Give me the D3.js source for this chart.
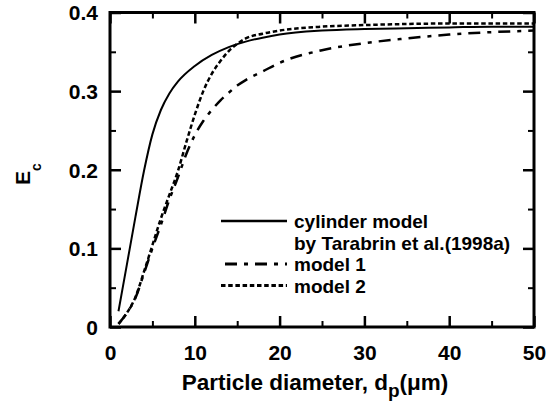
<!DOCTYPE html>
<html>
<head>
<meta charset="utf-8">
<script src="https://cdn.jsdelivr.net/npm/d3@7"></script>
<style>
  body { margin: 0; background: #fff; }
  text { font-family: "Liberation Sans", Arial, sans-serif; font-weight: bold; fill: #000; }
</style>
</head>
<body>
<div id="chart"></div>
<script>
// data: particle diameter (um) vs collection efficiency
var dCyl = [1, 2, 3, 4, 5, 6, 7, 8, 10, 12, 14, 16, 18, 20, 25, 30, 35, 40, 45, 50];
var eCyl = [0.02, 0.08, 0.14, 0.198, 0.245, 0.276, 0.297, 0.312, 0.332, 0.346, 0.356, 0.363, 0.368, 0.372, 0.377, 0.379, 0.380, 0.381, 0.382, 0.382];

var dM1 = [1, 2, 3, 4, 5, 6, 7, 8, 9, 10, 11, 12, 13, 14, 15, 16, 18, 20, 25, 30, 35, 40, 45, 50];
var eM1 = [0.004, 0.018, 0.037, 0.068, 0.1, 0.13, 0.162, 0.19, 0.22, 0.244, 0.262, 0.276, 0.288, 0.298, 0.307, 0.314, 0.325, 0.336, 0.352, 0.361, 0.367, 0.372, 0.375, 0.377];

var dM2 = [1, 2, 3, 4, 5, 6, 7, 8, 9, 10, 11, 12, 13, 14, 15, 16, 18, 20, 25, 30, 40, 50];
var eM2 = [0.004, 0.018, 0.038, 0.07, 0.104, 0.138, 0.168, 0.198, 0.235, 0.27, 0.3, 0.322, 0.338, 0.351, 0.36, 0.367, 0.373, 0.377, 0.382, 0.384, 0.386, 0.386];

var xMajor = [0, 10, 20, 30, 40, 50];
var xMinor = [5, 15, 25, 35, 45];
var yMajor = [0, 0.1, 0.2, 0.3, 0.4];
var yMinor = [0.05, 0.15, 0.25, 0.35];

var legendLabels = ["cylinder model", "by Tarabrin et al.(1998a)", "model 1", "model 2"];

var margin = {top: 12.5, right: 25, bottom: 81, left: 110},
    width = 559 - margin.left - margin.right,
    height = 408 - margin.top - margin.bottom;

var svg = d3.select("#chart")
  .append("svg")
    .attr("width", 559)
    .attr("height", 408)
  .append("g")
    .attr("transform", "translate(" + margin.left + "," + margin.top + ")");

var x = d3.scaleLinear().domain([0, 50]).range([0, width]);
var y = d3.scaleLinear().domain([0, 0.4]).range([height, 0]);

function styleAxis(g, sw) {
  g.select(".domain").remove();
  g.selectAll(".tick line").attr("stroke", "#000").attr("stroke-width", sw);
}

// bottom axis with labels
svg.append("g")
  .attr("transform", "translate(0," + height + ")")
  .call(d3.axisBottom(x).tickValues(xMajor).tickSize(-11).tickPadding(33).tickFormat(d3.format("d")))
  .call(styleAxis, 2.5)
  .selectAll("text").attr("font-size", 21).attr("dy", "0");
svg.append("g")
  .attr("transform", "translate(0," + height + ")")
  .call(d3.axisBottom(x).tickValues(xMinor).tickSize(-6).tickFormat(""))
  .call(styleAxis, 2);

// top mirror
svg.append("g")
  .call(d3.axisTop(x).tickValues(xMajor).tickSize(-11).tickFormat(""))
  .call(styleAxis, 2.5);
svg.append("g")
  .call(d3.axisTop(x).tickValues(xMinor).tickSize(-6).tickFormat(""))
  .call(styleAxis, 2);

// left axis with labels
svg.append("g")
  .call(d3.axisLeft(y).tickValues(yMajor).tickSize(-11).tickPadding(12).tickFormat(function(d) { return d === 0 ? "0" : d3.format(".1f")(d); }))
  .call(styleAxis, 2.5)
  .selectAll("text").attr("font-size", 21).attr("dy", "0.35em");
svg.append("g")
  .call(d3.axisLeft(y).tickValues(yMinor).tickSize(-6).tickFormat(""))
  .call(styleAxis, 2);

// right mirror
svg.append("g")
  .attr("transform", "translate(" + width + ",0)")
  .call(d3.axisRight(y).tickValues(yMajor).tickSize(-11).tickFormat(""))
  .call(styleAxis, 2.5);
svg.append("g")
  .attr("transform", "translate(" + width + ",0)")
  .call(d3.axisRight(y).tickValues(yMinor).tickSize(-6).tickFormat(""))
  .call(styleAxis, 2);

// frame
svg.append("rect")
  .attr("width", width)
  .attr("height", height)
  .attr("fill", "none")
  .attr("stroke", "#000")
  .attr("stroke-width", 3);

// curves
var series = [
  {d: dCyl, e: eCyl, dash: null, sw: 2},
  {d: dM1, e: eM1, dash: "12,7,4,7", sw: 2.5},
  {d: dM2, e: eM2, dash: "4.5,2.7", sw: 2.5}
];

var line = d3.line()
  .curve(d3.curveMonotoneX)
  .x(function(p) { return x(p[0]); })
  .y(function(p) { return y(p[1]); });

series.forEach(function(s) {
  svg.append("path")
    .datum(d3.zip(s.d, s.e))
    .attr("fill", "none")
    .attr("stroke", "#000")
    .attr("stroke-width", s.sw)
    .attr("stroke-dasharray", s.dash)
    .attr("d", line);
});

// legend
var lg = svg.append("g").attr("transform", "translate(" + (221 - margin.left) + "," + (228 - margin.top) + ")");
lg.selectAll("text")
  .data(legendLabels)
  .enter().append("text")
    .attr("x", 73)
    .attr("y", function(d, i) { return i * 21.5; })
    .attr("font-size", 19)
    .text(function(d) { return d; });

var legendRows = [
  {row: 0, dash: null, sw: 2.5},
  {row: 2, dash: "12,7,4,7", sw: 3},
  {row: 3, dash: "4.5,2.7", sw: 3}
];
legendRows.forEach(function(r) {
  lg.append("line")
    .attr("x1", r.row === 2 ? 4 : 0)
    .attr("x2", 66)
    .attr("y1", r.row * 21.5 - 7)
    .attr("y2", r.row * 21.5 - 7)
    .attr("stroke", "#000")
    .attr("stroke-width", r.sw)
    .attr("stroke-dasharray", r.dash);
});

// axis titles
var xt = svg.append("text")
  .attr("x", 315 - margin.left)
  .attr("y", 390 - margin.top)
  .attr("text-anchor", "middle")
  .attr("font-size", 22.5);
xt.append("tspan").text("Particle diameter, d");
xt.append("tspan").attr("font-size", 19).attr("dy", 7).text("p");
xt.append("tspan").attr("dy", -7).text("(\u03bcm)");

var yt = svg.append("text")
  .attr("transform", "translate(" + (30 - margin.left) + "," + (174 - margin.top) + ") rotate(-90)")
  .attr("text-anchor", "middle")
  .attr("font-size", 21);
yt.append("tspan").text("E");
yt.append("tspan").attr("font-size", 14).attr("dy", 11).text("c");
</script>
</body>
</html>
